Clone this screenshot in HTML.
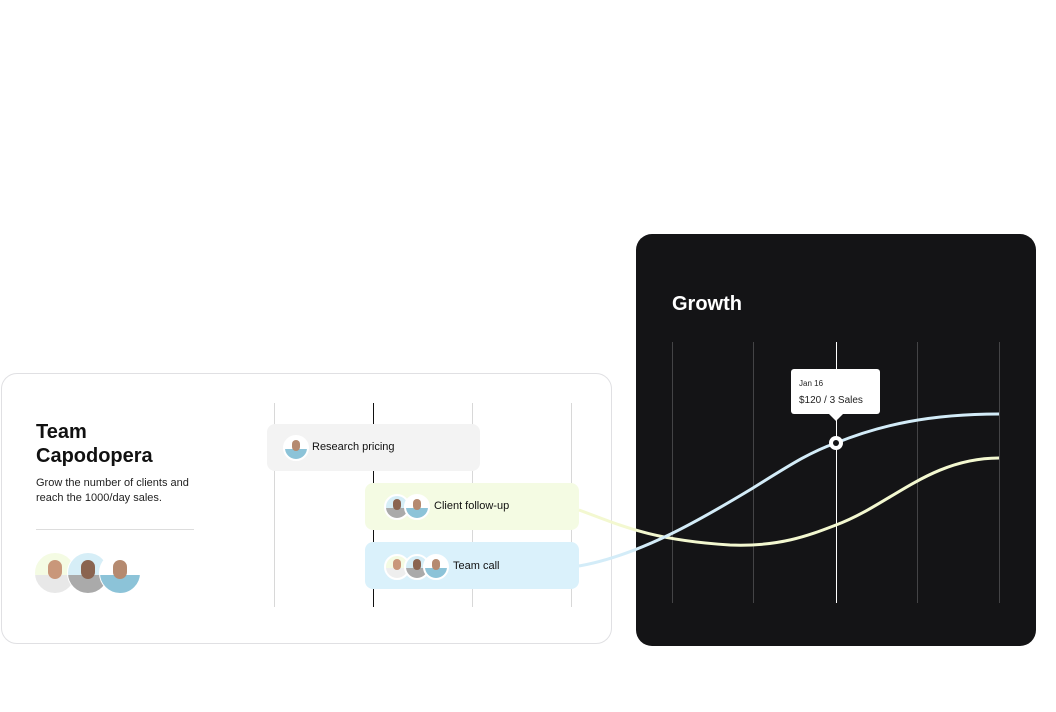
<!DOCTYPE html>
<html><head><meta charset="utf-8"><style>
body{margin:0;width:1056px;height:712px;background:#fff;position:relative;overflow:hidden;font-family:"Liberation Sans",sans-serif;}
.a{position:absolute}
.card{left:1px;top:373px;width:609px;height:269px;border:1px solid #e0e0e3;border-radius:16px;background:#fff}
.dark{left:636px;top:234px;width:400px;height:412px;border-radius:16px;background:#141416}
.box{position:absolute;border-radius:8px;font-size:11px;color:#111;}
.av{position:absolute;border-radius:50%;border:2px solid #fff;overflow:hidden}
</style></head><body>
<div class="a card"></div>
<div class="a dark"></div>
<svg class="a" style="left:0;top:0" width="1056" height="712">
<g stroke="#d8d8d8" stroke-width="1"><line x1="274.5" y1="403" x2="274.5" y2="607"/><line x1="472.5" y1="403" x2="472.5" y2="607"/><line x1="571.5" y1="403" x2="571.5" y2="607"/></g>
<line x1="373.5" y1="403" x2="373.5" y2="607" stroke="#111"/>
<line x1="36" y1="529.5" x2="194" y2="529.5" stroke="#ddd"/>
<g stroke="#444446"><line x1="672.5" y1="342" x2="672.5" y2="603"/><line x1="753.5" y1="342" x2="753.5" y2="603"/><line x1="917.5" y1="342" x2="917.5" y2="603"/><line x1="999.5" y1="342" x2="999.5" y2="603"/></g>
<line x1="836.5" y1="342" x2="836.5" y2="603" stroke="#fff"/>
</svg>
<div class="box" style="left:267px;top:424px;width:213px;height:47px;background:#f3f3f3"><span class="a" style="left:45px;top:17px">Research pricing</span></div>
<div class="box" style="left:365px;top:483px;width:214px;height:47px;background:#f4fbe3"><span class="a" style="left:69px;top:17px">Client follow-up</span></div>
<div class="box" style="left:365px;top:542px;width:214px;height:47px;background:#daf1fb"><span class="a" style="left:88px;top:18px">Team call</span></div>
<div class="av" style="left:283px;top:435px;width:22px;height:22px;background:linear-gradient(#fff 55%,#8cc3d8 55%)"><div class="a" style="left:7px;top:3px;width:8px;height:11px;border-radius:4px;background:#b58a70"></div></div>
<div class="av" style="left:384px;top:494px;width:22px;height:22px;background:linear-gradient(#d6eef7 55%,#aaa 55%)"><div class="a" style="left:7px;top:3px;width:8px;height:11px;border-radius:4px;background:#8a6450"></div></div>
<div class="av" style="left:404px;top:494px;width:22px;height:22px;background:linear-gradient(#fff 55%,#8cc3d8 55%)"><div class="a" style="left:7px;top:3px;width:8px;height:11px;border-radius:4px;background:#b58a70"></div></div>
<div class="av" style="left:384px;top:554px;width:22px;height:22px;background:linear-gradient(#f4fbe3 55%,#eee 55%)"><div class="a" style="left:7px;top:3px;width:8px;height:11px;border-radius:4px;background:#c9977a"></div></div>
<div class="av" style="left:404px;top:554px;width:22px;height:22px;background:linear-gradient(#d6eef7 55%,#aaa 55%)"><div class="a" style="left:7px;top:3px;width:8px;height:11px;border-radius:4px;background:#8a6450"></div></div>
<div class="av" style="left:423px;top:554px;width:22px;height:22px;background:linear-gradient(#fff 55%,#8cc3d8 55%)"><div class="a" style="left:7px;top:3px;width:8px;height:11px;border-radius:4px;background:#b58a70"></div></div>
<div class="a" style="left:36px;top:420px;font-size:20px;line-height:24px;color:#111;font-weight:bold">Team<br>Capodopera</div>
<div class="a" style="left:36px;top:476px;font-size:11px;line-height:15px;color:#222">Grow the number of clients and<br>reach the 1000/day sales.</div>
<div class="av" style="left:34px;top:552px;width:40px;height:40px;border:1px solid #fff;background:linear-gradient(#f4fbe3 55%,#e8e8e8 55%)"><div class="a" style="left:13px;top:7px;width:14px;height:19px;border-radius:7px;background:#c9977a"></div></div>
<div class="av" style="left:67px;top:552px;width:40px;height:40px;border:1px solid #fff;background:linear-gradient(#d6eef7 55%,#aaa 55%)"><div class="a" style="left:13px;top:7px;width:14px;height:19px;border-radius:7px;background:#8a6450"></div></div>
<div class="av" style="left:99px;top:552px;width:40px;height:40px;border:1px solid #fff;background:linear-gradient(#fff 55%,#8cc3d8 55%)"><div class="a" style="left:13px;top:7px;width:14px;height:19px;border-radius:7px;background:#b58a70"></div></div>
<div class="a" style="left:672px;top:293px;font-size:20px;font-weight:bold;color:#fff">Growth</div>
<svg class="a" style="left:0;top:0" width="1056" height="712">
<path d="M579,510 C620,525 650,540 730,545 C780,547 810,535 836,525 C890,505 930,458 999,458" fill="none" stroke="#f3f8d0" stroke-width="3"/>
<path d="M579,566 C640,555 700,520 753,488 C790,465 810,452 836,443 C880,425 930,414 999,414" fill="none" stroke="#d3ecf8" stroke-width="3"/>
<rect x="791" y="369" width="89" height="45" rx="3" fill="#fff"/>
<path d="M829,414 L836,421 L843,414Z" fill="#fff"/>
<circle cx="836" cy="443" r="7" fill="#fff"/><circle cx="836" cy="443" r="3" fill="#141416"/>
<text x="799" y="386" font-size="8" fill="#222" font-family="Liberation Sans">Jan 16</text>
<text x="799" y="403" font-size="10" fill="#222" font-family="Liberation Sans">$120 / 3 Sales</text>
</svg>
</body></html>
